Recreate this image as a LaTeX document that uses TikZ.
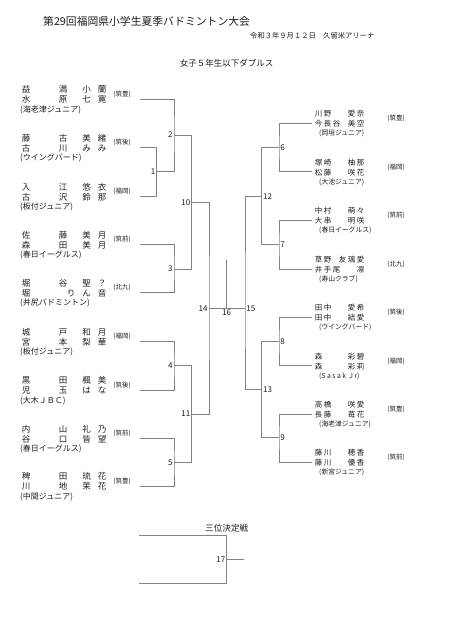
\documentclass[tikz,border=0pt]{standalone}
\usepackage{fontspec}
\setmainfont{Noto Sans CJK JP}
\definecolor{ln}{RGB}{130,130,130}
\definecolor{tx}{RGB}{30,30,30}
\newcommand\gk{\hspace{7pt}}
\newcommand\rk{\hspace{1.5pt}}
\newcommand\LName[2]{\makebox[84.5pt][l]{\rlap{\makebox[45.5pt][l]{#1}}\hfill\llap{#2}}}
\newcommand\RName[2]{\makebox[49.5pt][l]{\rlap{#1}\hfill\llap{#2}}}
\newcommand\LEntry[8]{%
  \node[nmL] (#1a) at (21.75,#2-9.5) {\LName{#3}{#4}};
  \node[nmL] (#1b) at (21.75,#2+0.5) {\LName{#5}{#6}};
  \node[clubL] (#1c) at (20,#2+10.5) {#7};
  \node[reg] (#1r) at (122,#2-5) {#8};
  \coordinate (#1) at (140,#2);}
\newcommand\REntry[8]{%
  \node[nmR] (#1a) at (314.75,#2-9.5) {\RName{#3}{#4}};
  \node[nmR] (#1b) at (314.75,#2+0.5) {\RName{#5}{#6}};
  \node[clubR] (#1c) at (319,#2+10.5) {#7};
  \node[reg] (#1r) at (396,#2-4.5) {#8};
  \coordinate (#1) at (311.7,#2);}
\begin{document}
\begin{tikzpicture}[x=1pt,y=-1pt]
\tikzset{
  br/.style={draw=ln, line width=0.75pt},
  mlab/.style={font=\fontsize{8}{9}\selectfont, text=tx, inner sep=1.2pt},
  nmL/.style={anchor=west, inner sep=0pt, font=\fontsize{8.5}{9}\selectfont, text=tx},
  nmR/.style={anchor=west, inner sep=0pt, font=\fontsize{7.5}{8}\selectfont, text=tx},
  clubL/.style={anchor=west, inner sep=0pt, font=\fontsize{8}{9}\selectfont, text=tx},
  clubR/.style={anchor=west, inner sep=0pt, font=\fontsize{6.8}{8}\selectfont, text=tx},
  reg/.style={inner sep=0pt, font=\fontsize{6.5}{7}\selectfont, text=tx},
}
\useasboundingbox (0,0) rectangle (453,640);
\fill[white] (0,0) rectangle (453,640);

% titles
\node[anchor=west, inner sep=0pt, font=\fontsize{10.8}{12}\selectfont, text=tx] (title) at (43,21) {第29回福岡県小学生夏季バドミントン大会};
\node[anchor=west, inner sep=0pt, font=\fontsize{7.3}{8}\selectfont, text=tx] (date) at (250,36) {令和３年９月１２日　久留米アリーナ};
\node[inner sep=0pt, font=\fontsize{8.5}{9}\selectfont, text=tx] (sub) at (226.5,63) {女子５年生以下ダブルス};

% left entries
\LEntry{L1}{99}{益\hfill 満}{小\gk 蘭}{水\hfill 原}{七\gk 寛}{(海老津ジュニア)}{(筑豊)}
\LEntry{L2}{147.7}{藤\hfill 古}{美\gk 緒}{古\hfill 川}{み\gk み}{(ウイングバード)}{(筑後)}
\LEntry{L3}{196.7}{入\hfill 江}{悠\gk 衣}{古\hfill 沢}{鈴\gk 那}{(板付ジュニア)}{(福岡)}
\LEntry{L4}{244.3}{佐\hfill 藤}{美\gk 月}{森\hfill 田}{美\gk 月}{(春日イーグルス)}{(筑前)}
\LEntry{L5}{292.7}{堀\hfill 谷}{聖\gk ？}{堀}{り\gk ん\gk 音}{(井尻バドミントン)}{(北九)}
\LEntry{L6}{341.3}{城\hfill 戸}{和\gk 月}{宮\hfill 本}{梨\gk 華}{(板付ジュニア)}{(福岡)}
\LEntry{L7}{390}{黒\hfill 田}{楓\gk 美}{児\hfill 玉}{は\gk な}{(大木ＪＢＣ)}{(筑後)}
\LEntry{L8}{438.3}{内\hfill 山}{礼\gk 乃}{谷\hfill 口}{皆\gk 望}{(春日イーグルス)}{(筑前)}
\LEntry{L9}{486}{稗\hfill 田}{琉\gk 花}{川\hfill 地}{茉\gk 花}{(中間ジュニア)}{(筑豊)}

% right entries
\REntry{R1}{123.3}{川\rk 野}{愛\rk 奈}{今\rk 長\rk 谷}{美\rk 空}{(岡垣ジュニア)}{(筑豊)}
\REntry{R2}{171.7}{塚\rk 崎}{柚\rk 那}{松\rk 藤}{咲\rk 花}{(大池ジュニア)}{(福岡)}
\REntry{R3}{220}{中\rk 村}{萌\rk 々}{大\rk 串}{明\rk 咲}{(春日イーグルス)}{(筑前)}
\REntry{R4}{269}{草\rk 野}{友\rk 璃\rk 愛}{井\rk 手\rk 尾}{凛}{(寿山クラブ)}{(北九)}
\REntry{R5}{317.3}{田\rk 中}{愛\rk 希}{田\rk 中}{結\rk 愛}{(ウイングバード)}{(筑後)}
\REntry{R6}{365.7}{森}{彩\rk 碧}{森}{彩\rk 莉}{(S a s a k\ \ J r)}{(福岡)}
\REntry{R7}{414.3}{高\rk 橋}{咲\rk 愛}{長\rk 藤}{苺\rk 花}{(海老津ジュニア)}{(筑豊)}
\REntry{R8}{462.3}{藤\rk 川}{穂\rk 香}{藤\rk 川}{優\rk 香}{(新宮ジュニア)}{(筑前)}

% match points
\coordinate (m1) at (156.7,171.7);
\coordinate (m2) at (174,135);
\coordinate (m3) at (174,269);
\coordinate (m4) at (174,365.7);
\coordinate (m5) at (174,462.3);
\coordinate (m10) at (191.7,202.7);
\coordinate (m11) at (191.7,414);
\coordinate (m14) at (209,308.3);
\coordinate (m6) at (279,147.7);
\coordinate (m7) at (279,244.3);
\coordinate (m8) at (279,341.3);
\coordinate (m9) at (279,437.7);
\coordinate (m12) at (261.7,196.7);
\coordinate (m13) at (261.7,389.3);
\coordinate (m15) at (245,308.3);
\coordinate (m16) at (226.7,308.3);
\coordinate (c16) at (226.7,260);

% bracket lines
\draw[br] (L2) -| (m1) |- (L3);
\draw[br] (L1) -| (m2) |- (m1);
\draw[br] (L4) -| (m3) |- (L5);
\draw[br] (L6) -| (m4) |- (L7);
\draw[br] (L8) -| (m5) |- (L9);
\draw[br] (m2) -| (m10) |- (m3);
\draw[br] (m4) -| (m11) |- (m5);
\draw[br] (m10) -| (m14) |- (m11);
\draw[br] (R1) -| (m6) |- (R2);
\draw[br] (R3) -| (m7) |- (R4);
\draw[br] (R5) -| (m8) |- (R6);
\draw[br] (R7) -| (m9) |- (R8);
\draw[br] (m6) -| (m12) |- (m7);
\draw[br] (m8) -| (m13) |- (m9);
\draw[br] (m12) -| (m15) |- (m13);
\draw[br] (m14) -- (m15);
\draw[br] (m16) -- (c16);

% match labels
\node[mlab, anchor=east] (n1) at (m1) {1};
\node[mlab, anchor=east] (n2) at (m2) {2};
\node[mlab, anchor=east] (n3) at (m3) {3};
\node[mlab, anchor=east] (n4) at (m4) {4};
\node[mlab, anchor=east] (n5) at (m5) {5};
\node[mlab, anchor=east] (n10) at (m10) {10};
\node[mlab, anchor=east] (n11) at (m11) {11};
\node[mlab, anchor=east] (n14) at (m14) {14};
\node[mlab, anchor=west] (n6) at (m6) {6};
\node[mlab, anchor=west] (n7) at (m7) {7};
\node[mlab, anchor=west] (n8) at (m8) {8};
\node[mlab, anchor=west] (n9) at (m9) {9};
\node[mlab, anchor=west] (n12) at (m12) {12};
\node[mlab, anchor=west] (n13) at (m13) {13};
\node[mlab, anchor=west] (n15) at (m15) {15};
\node[mlab, anchor=north] (n16) at (m16) {16};

% third place
\node[inner sep=0pt, font=\fontsize{8.6}{9}\selectfont, text=tx] (third) at (226.7,528.5) {三位決定戦};
\coordinate (t17a) at (139.3,535);
\coordinate (t17b) at (139.3,583.3);
\coordinate (m17) at (226.7,559.3);
\coordinate (o17) at (244.3,559.3);
\draw[br] (t17a) -| (m17) |- (t17b);
\draw[br] (m17) -- (o17);
\node[mlab, anchor=east] (n17) at (m17) {17};
\end{tikzpicture}
\end{document}
